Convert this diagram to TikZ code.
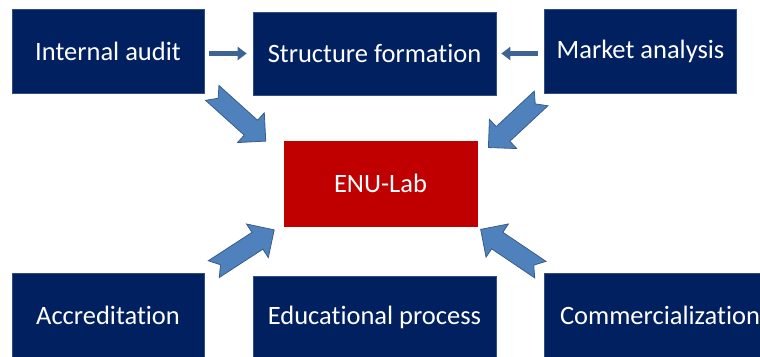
\documentclass[tikz,border=0pt]{standalone}
\usepackage{fontspec}
\setmainfont{Carlito}[Ligatures=NoCommon]
\usetikzlibrary{positioning}
\usetikzlibrary{arrows.meta}
\usetikzlibrary{calc}

\definecolor{navy}{HTML}{002060}
\definecolor{labred}{HTML}{C00000}
\definecolor{arrowblue}{HTML}{4F81BD}
\definecolor{arrowedge}{HTML}{385D8A}

\tikzset{
 dept/.style={fill=navy,draw=navy!80!white,line width=0.6pt,text=white,
  minimum width=192pt,minimum height=84pt,inner sep=0pt,
  font=\fontsize{26.5}{30}\selectfont},
 core/.style={dept,fill=labred,draw=labred},
 thinarrow/.style={draw=arrowedge!80!arrowblue,line width=5pt,
  -{Triangle[width=13pt,length=9pt]}},
 notched/.pic={
  \filldraw[fill=arrowblue,draw=arrowedge,line width=0.8pt]
   (-36,10) -- (16,10) -- (16,20) -- (36,0) -- (16,-20) -- (16,-10)
   -- (-36,-10) -- (-28,0) -- cycle;
 }
}

\begin{document}
\begin{tikzpicture}[x=1pt,y=1pt]
 \useasboundingbox (0,0) rectangle (760,356);
 \clip (0,0) rectangle (760,356);
 % boxes
 \node[dept] (audit) at (108,305) {Internal audit};
 \node[dept,minimum width=243pt,minimum height=83pt] (structure) at (374.5,302.5) {Structure formation};
 \node[dept] (market) at (640.5,305) {Market analysis};
 \node[core,minimum width=193pt,minimum height=85pt] (lab) at (380.5,172.5) {ENU-Lab};
 \node[dept] (accred) at (108,41) {Accreditation};
 \node[dept,minimum width=243pt,minimum height=83pt] (educ) at (374.5,38.5) {Educational process};
 \node[dept,minimum width=232pt] (commerc) at (660,41) {Commercialization};
 % small arrows
 \draw[thinarrow] ([xshift=5pt]audit.east |- structure.west) -- ([xshift=-6pt]structure.west);
 \draw[thinarrow] ([xshift=-6pt]market.west |- structure.east) -- ([xshift=5pt]structure.east);
 % big arrows
 \pic[rotate=-42] at ($(audit.south east)!0.5!(lab.north west)+(-5,0)$) {notched};
 \pic[rotate=223] at ($(market.south west)!0.5!(lab.north east)+(4,-6)$) {notched};
 \pic[rotate=33] at ($(accred.north east)!0.5!(lab.south west)$) {notched};
 \pic[rotate=146] at ($(commerc.north west)!0.5!(lab.south east)$) {notched};
\end{tikzpicture}
\end{document}
